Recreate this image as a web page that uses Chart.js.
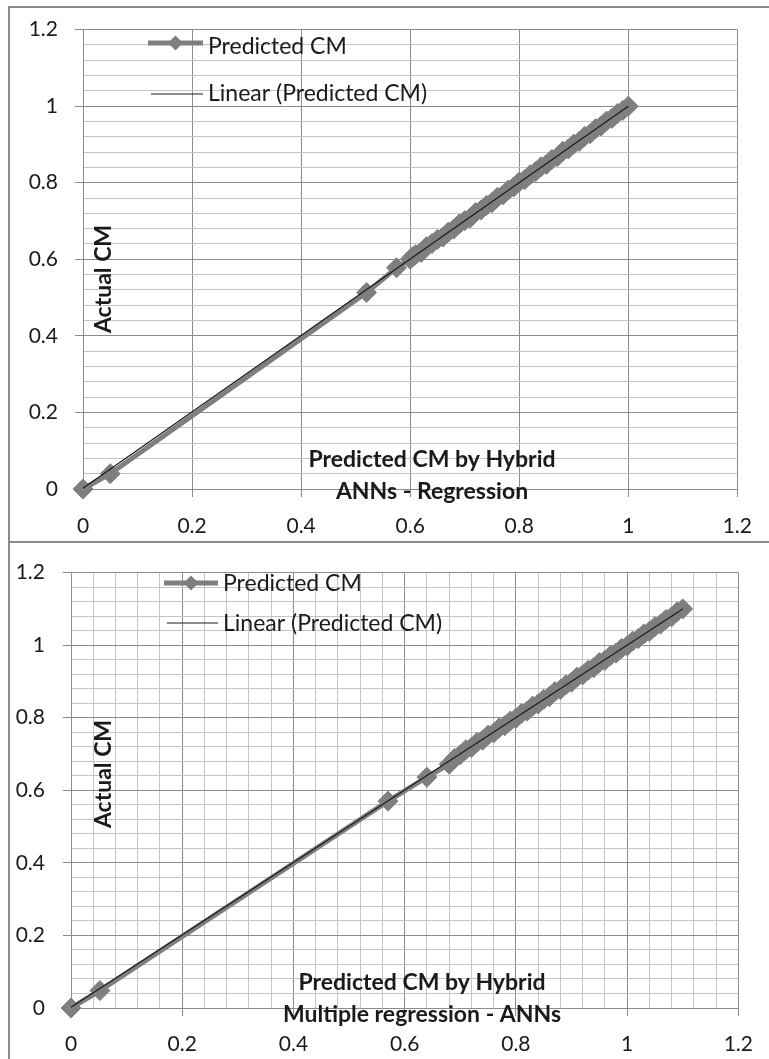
<!DOCTYPE html>
<html><head><meta charset="utf-8">
<script src="https://cdn.jsdelivr.net/npm/chart.js@4.4.1/dist/chart.umd.min.js"></script>
<style>
html,body{margin:0;padding:0;background:#fff;width:769px;height:1059px;overflow:hidden;}
#c1{position:absolute;left:0;top:0;}
#c2{position:absolute;left:0;top:542px;}
.frame{position:absolute;pointer-events:none;border-color:#8a8a8a;border-style:solid;box-sizing:border-box;}
</style></head><body>
<canvas id="c1" width="769" height="542"></canvas>
<canvas id="c2" width="769" height="517"></canvas>
<div class="frame" style="left:8px;top:6px;width:761px;height:537px;border-width:2px 0 2px 2px;"></div>
<div class="frame" style="left:8px;top:541px;width:761px;height:518px;border-width:0 0 0 2px;"></div>
<script>
// ---------- DATA ----------
const seriesName = 'Predicted CM';
const trendName = 'Linear (Predicted CM)';
const tickLabels = ['0', '0.2', '0.4', '0.6', '0.8', '1', '1.2'];

// Top chart: Hybrid ANNs - Regression
const topPredicted = [0, 0.05, 0.52, 0.575, 0.60, 0.605, 0.61, 0.62, 0.63, 0.64, 0.65, 0.66, 0.67, 0.68, 0.69, 0.70, 0.71, 0.72, 0.73, 0.74, 0.75, 0.76, 0.77, 0.78, 0.79, 0.80, 0.81, 0.82, 0.83, 0.84, 0.85, 0.86, 0.87, 0.88, 0.89, 0.90, 0.91, 0.92, 0.93, 0.94, 0.95, 0.96, 0.97, 0.98, 0.99, 1.00];
const topActual    = [0, 0.04, 0.513, 0.578, 0.600, 0.607, 0.612, 0.618, 0.633, 0.641, 0.652, 0.658, 0.671, 0.679, 0.692, 0.701, 0.708, 0.722, 0.729, 0.741, 0.748, 0.762, 0.768, 0.781, 0.789, 0.802, 0.808, 0.821, 0.829, 0.842, 0.848, 0.861, 0.868, 0.882, 0.888, 0.901, 0.908, 0.921, 0.928, 0.941, 0.948, 0.961, 0.968, 0.981, 0.989, 1.000];
const topTrendX = [0, 1.0];
const topTrendY = [0.002, 1.0];

// Bottom chart: Hybrid Multiple regression - ANNs
const botPredicted = [0, 0.052, 0.57, 0.64, 0.68, 0.69, 0.70, 0.71, 0.72, 0.73, 0.74, 0.75, 0.76, 0.77, 0.78, 0.79, 0.80, 0.81, 0.82, 0.83, 0.84, 0.85, 0.86, 0.87, 0.88, 0.89, 0.90, 0.91, 0.92, 0.93, 0.94, 0.95, 0.96, 0.97, 0.98, 0.99, 1.00, 1.01, 1.02, 1.03, 1.04, 1.05, 1.06, 1.07, 1.08, 1.09, 1.10];
const botActual    = [0, 0.048, 0.57, 0.636, 0.672, 0.688, 0.698, 0.712, 0.718, 0.732, 0.738, 0.752, 0.758, 0.772, 0.778, 0.791, 0.798, 0.812, 0.818, 0.832, 0.838, 0.851, 0.858, 0.872, 0.878, 0.891, 0.898, 0.912, 0.918, 0.931, 0.938, 0.952, 0.958, 0.971, 0.978, 0.991, 0.998, 1.011, 1.018, 1.031, 1.038, 1.051, 1.058, 1.071, 1.078, 1.092, 1.100];
const botTrendX = [0, 1.1];
const botTrendY = [0.002, 1.1];

const yTitle = 'Actual CM';
const topXTitle = ['Predicted CM by Hybrid', 'ANNs - Regression'];
const botXTitle = ['Predicted CM by Hybrid', 'Multiple regression - ANNs'];

// ---------- STYLE ----------
const SERIES_COLOR = '#7f7f7f';
const MAJOR = '#8c8c8c';
const MINOR = '#c4c4c4';
const FONT = 'Lato, "Open Sans", sans-serif';

function isMajor(v){ return Math.abs(v/0.2 - Math.round(v/0.2)) < 1e-6; }
function pts(xs, ys){ return xs.map((x,i)=>({x:x, y:ys[i]})); }
function labelFor(v){ if(!isMajor(v)) return ''; return tickLabels[Math.round(v/0.2)]; }

function overlay(cfg){
  return {
    id: 'overlay',
    afterDraw(chart){
      const ctx = chart.ctx;
      ctx.save();
      ctx.strokeStyle = SERIES_COLOR; ctx.lineWidth = 5; ctx.lineCap='butt';
      ctx.beginPath(); ctx.moveTo(cfg.leg1[0], cfg.leg1[2]); ctx.lineTo(cfg.leg1[1], cfg.leg1[2]); ctx.stroke();
      const dx = (cfg.leg1[0]+cfg.leg1[1])/2, dy = cfg.leg1[2], r=7.5;
      ctx.fillStyle = SERIES_COLOR;
      ctx.beginPath(); ctx.moveTo(dx-r,dy); ctx.lineTo(dx,dy-r); ctx.lineTo(dx+r,dy); ctx.lineTo(dx,dy+r); ctx.closePath(); ctx.fill();
      ctx.fillStyle = '#1a1a1a';
      ctx.font = '23px ' + FONT; ctx.textAlign='left'; ctx.textBaseline='alphabetic';
      ctx.fillText(seriesName, cfg.legText, cfg.leg1[3]);
      ctx.strokeStyle = '#1a1a1a'; ctx.lineWidth = 1.2;
      ctx.beginPath(); ctx.moveTo(cfg.leg2[0], cfg.leg2[2]); ctx.lineTo(cfg.leg2[1], cfg.leg2[2]); ctx.stroke();
      ctx.fillText(trendName, cfg.legText, cfg.leg2[3]);
      ctx.font = 'bold 23px ' + FONT; ctx.textAlign='center';
      ctx.fillText(cfg.xTitle[0], cfg.xt[0], cfg.xt[1]);
      ctx.fillText(cfg.xTitle[1], cfg.xt[0], cfg.xt[2]);
      ctx.translate(cfg.yt[0], cfg.yt[1]); ctx.rotate(-Math.PI/2);
      ctx.textBaseline='middle';
      ctx.fillText(yTitle, 0, 0);
      ctx.restore();
    }
  };
}

function makeChart(id, pred, act, tx, ty, xStep, layout, cfg){
  const tickFont = {family: FONT, size: 21};
  return new Chart(document.getElementById(id), {
    type: 'scatter',
    data: { datasets: [
      { label: trendName, data: pts(tx, ty), showLine: true, borderColor: '#1a1a1a', borderWidth: 1.2, pointRadius: 0, fill:false, clip:false },
      { label: seriesName, data: pts(pred, act), showLine: true, borderColor: SERIES_COLOR, backgroundColor: SERIES_COLOR,
        borderWidth: 5, pointStyle: 'rectRot', pointRadius: 10, pointBorderWidth: 1, pointBorderColor: SERIES_COLOR,
        pointBackgroundColor: SERIES_COLOR, fill:false, clip:false }
    ]},
    options: {
      responsive: false, animation: false, devicePixelRatio: 1,
      layout: { padding: layout.padding },
      plugins: { legend: {display:false}, tooltip:{enabled:false} },
      scales: {
        x: {
          type:'linear', min:0, max:1.2,
          afterFit: s => { s.height = layout.xh; },
          ticks: { stepSize: xStep, maxTicksLimit: 100, autoSkip:false, maxRotation:0, minRotation:0, padding: layout.xpad,
                   color:'#1a1a1a', font: tickFont, callback: v => labelFor(v) },
          grid: { color: c => isMajor(c.tick.value) ? MAJOR : MINOR, lineWidth:1, tickLength:8,
                  tickColor: c => isMajor(c.tick.value) ? MAJOR : 'rgba(0,0,0,0)' },
          border: { display:true, color: MAJOR, width:1 }
        },
        y: {
          type:'linear', min:0, max:1.2,
          afterFit: s => { s.width = layout.yw; },
          ticks: { stepSize: 0.04, maxTicksLimit: 100, autoSkip:false, padding: layout.ypad,
                   color:'#1a1a1a', font: tickFont, callback: v => labelFor(v) },
          grid: { color: c => isMajor(c.tick.value) ? MAJOR : MINOR, lineWidth:1, tickLength:8,
                  tickColor: c => isMajor(c.tick.value) ? MAJOR : 'rgba(0,0,0,0)' },
          border: { display:true, color: MAJOR, width:1 }
        }
      }
    },
    plugins: [overlay(cfg)]
  });
}

// top chart: plot area x 83..741, y 23..489
makeChart('c1', topPredicted, topActual, topTrendX, topTrendY, 0.2,
  { padding:{left:0, top:23, right:28, bottom:2}, xh:51, yw:83, xpad:17, ypad:17 },
  { leg1:[148,203,43,54], leg2:[151,203,94,101], legText:208, xTitle: topXTitle, xt:[432,467,499], yt:[104,279] });

// bottom chart (canvas top = 542): plot area x 71..745, y 17..466
makeChart('c2', botPredicted, botActual, botTrendX, botTrendY, 0.04,
  { padding:{left:0, top:17, right:24, bottom:1}, xh:50, yw:71, xpad:16, ypad:18 },
  { leg1:[164,218,41,49], leg2:[167,218,81,89], legText:223, xTitle: botXTitle, xt:[422,448,480], yt:[104,232] });
</script>
</body></html>
